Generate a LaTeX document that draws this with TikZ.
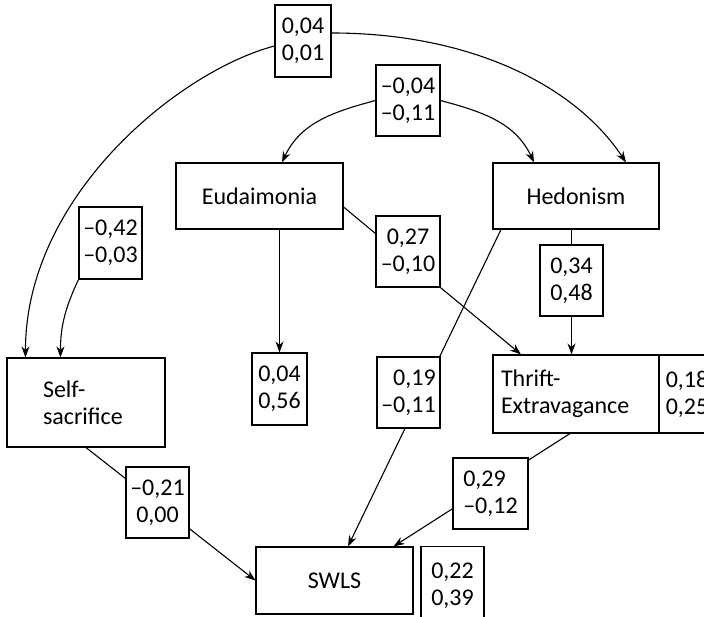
\documentclass[tikz,border=0pt]{standalone}
\usepackage{fontspec}
\setmainfont{Carlito}
\usetikzlibrary{arrows.meta, backgrounds}

\begin{document}
\begin{tikzpicture}[x=1pt, y=1pt, >={Stealth[length=11pt, width=8pt]},
  font=\fontsize{24}{27}\selectfont,
  var/.style={draw, line width=1.1pt, fill=white, minimum width=166, minimum height=66, inner sep=2pt},
  coef/.style={draw, line width=1.1pt, fill=white, align=center, minimum width=63, minimum height=71, inner sep=2pt},
  link/.style={->, line width=1.1pt}
]
  \useasboundingbox (0,0) rectangle (704,616);
  \clip (0,0) rectangle (704,616);

  % Variables
  \node[var, minimum width=167] (Eud) at (259.5,420) {Eudaimonia};
  \node[var] (Hed) at (576,420) {Hedonism};
  \node[var, minimum width=158, minimum height=89, align=left, text width=86, inner xsep=36] (Self) at (86,213.5) {Self-\\sacrifice};
  \node[var, minimum height=78, align=left, text width=150, inner xsep=8] (Thr) at (576,222) {Thrift-\\Extravagance};
  \node[var, minimum width=157, minimum height=67] (SWLS) at (334.5,35.5) {SWLS};

  % Coefficients
  \node[coef, minimum width=56, minimum height=72] (c1) at (303,575) {0,04\\0,01};
  \node[coef, minimum width=64] (c2) at (408,515.5) {–0,04\\–0,11};
  \node[coef, minimum height=72] (c3) at (110.5,373) {–0,42\\–0,03};
  \node[coef, minimum width=64] (c4) at (408,364.5) {0,27\\–0,10};
  \node[coef] (c5) at (571.5,335.5) {0,34\\0,48};
  \node[coef, minimum width=55, minimum height=72] (c6) at (279.5,227) {0,04\\0,56};
  \node[coef, align=right] (c7) at (408.5,223.5) {0,19\\–0,11};
  \node[coef, minimum width=56, minimum height=78] (c8) at (687,222) {0,18\\0,25};
  \node[coef] (c9) at (157.5,113.5) {–0,21\\0,00};
  \node[coef, minimum width=75, align=left] (c10) at (490.5,122.5) {0,29\\–0,12};
  \node[coef, minimum height=78, anchor=north] (c11) at (452.5,70) {0,22\\0,39};

  % Paths
  \begin{scope}[on background layer]
    \draw[link] ([yshift=-5pt]c1.west) .. controls +(-95,-25) and +(0,162) .. ([xshift=19pt]Self.north west);
    \draw[link] ([yshift=8pt]c1.east) .. controls +(139,0) and +(-51,77) .. ([xshift=50pt]Hed.north);
    \draw[link] (c2.west) to[out=195, in=65] ([xshift=22.5pt]Eud.north);
    \draw[link] (c2.east) to[out=-15, in=115] ([xshift=-42pt]Hed.north);
    \draw[link] (c3.south west) to[out=245, in=90] ([xshift=54pt]Self.north west);
    \draw[link] (c6.north |- Eud.south) -- (c6.north);
    \draw[link] ([yshift=-11pt]Eud.east) -- ([xshift=-55pt]Thr.north);
    \draw[link] ([xshift=-75pt]Hed.south) -- ([xshift=13.5pt]SWLS.north);
    \draw[link] (c5.north |- Hed.south) -- (c5.north |- Thr.north);
    \draw[link] (Self.south) -- (SWLS.west);
    \draw[link] ([xshift=-6pt]Thr.south) -- ([xshift=-20pt]SWLS.north east);
  \end{scope}
\end{tikzpicture}
\end{document}
